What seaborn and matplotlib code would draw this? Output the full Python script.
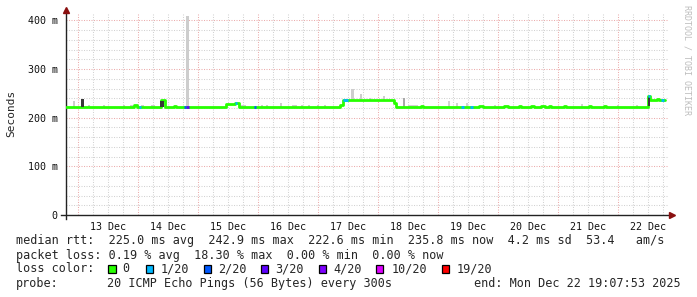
import numpy as np
import pandas as pd
import matplotlib
matplotlib.use("Agg")
import matplotlib.pyplot as plt
import seaborn as sns

# ---------------- data (hours since 13 Dec 00:00, values in ms) ----------------
# median rtt, step-post breakpoints
med_hours = [-4.8, 22.4, 23.4, 33.2, 34.6, 38.4, 39.2, 59.2, 62.8, 64.6,
             104.8, 106.0, 126.4, 127.2, 137.2, 138.0, 160.4, 162.0, 170.4, 172.0,
             176.4, 177.2, 181.2, 182.4, 185.2, 186.8, 188.4, 189.2, 194.4, 195.2,
             204.4, 205.2, 210.4, 211.2, 228.0, 228.8, 231.6, 232.4, 234.8]
med_values = [222.6, 225.5, 222.6, 237.0, 222.6, 225.0, 222.6, 229.0, 231.0, 222.6,
              226.0, 236.0, 231.0, 222.6, 224.5, 222.6, 224.5, 222.6, 224.5, 222.6,
              224.5, 222.6, 224.5, 222.6, 224.5, 222.6, 224.5, 222.6, 224.5, 222.6,
              224.5, 222.6, 224.5, 222.6, 244.0, 237.0, 239.0, 237.0, 237.0]

# segments with packet loss (start h, end h, value, loss level index)
loss_start = [24.4, 42.4, 43.4, 62.8, 70.4, 106.0, 153.2, 156.8, 228.0, 233.2]
loss_end = [25.2, 43.4, 44.4, 63.6, 71.2, 108.0, 154.4, 158.0, 228.8, 234.4]
loss_value = [222.6, 222.6, 222.6, 231.0, 222.6, 236.0, 222.6, 222.6, 244.0, 237.0]
loss_level = [1, 2, 3, 1, 2, 1, 1, 1, 1, 1]

# light smoke (ping spread) bars: centre hour, width hours, low, high, shade
smoke_hour = [-1.6, 4.4, 10.4, 18.4, 21.2, 25.6, 30.0, 43.8, 66.4, 73.6, 75.6,
              81.2, 86.8, 89.6, 92.4, 96.0, 98.8, 109.8, 113.2, 116.8, 122.4,
              130.4, 134.0, 148.4, 151.6, 155.6, 166.8, 201.6, 216.0, 223.6]
smoke_width = [0.8, 0.8, 0.8, 0.8, 1.2, 1.2, 1.6, 1.2, 2.0, 0.8, 0.8,
               0.8, 2.0, 0.8, 0.8, 0.8, 0.8, 1.2, 0.8, 0.8, 0.8,
               0.8, 4.0, 0.8, 0.8, 0.8, 0.8, 0.8, 0.8, 0.8]
smoke_low = [222.6] * 17 + [236.0] * 4 + [222.6] * 9
smoke_high = [234, 227, 226, 226, 226, 227, 227, 410, 227, 227, 226,
              230, 227, 226, 226, 226, 226, 260, 248, 240, 244,
              241, 227, 234, 231, 231, 227, 228, 226, 226]
smoke_shade = ["#cdcdcd"] * 21 + ["#a8a8a8"] + ["#d2d2d2"] * 8

# dense (dark) smoke bars
dark_hour = [1.8, 33.6, 228.3]
dark_width = [1.2, 1.6, 0.8]
dark_low = [222.6, 222.6, 224.0]
dark_high = [238.0, 235.0, 242.0]

loss_labels = ["0", "1/20", "2/20", "3/20", "4/20", "10/20", "19/20"]
loss_colors = ["#26ff00", "#00b8ff", "#0059ff", "#5e00ff", "#7e00ff", "#dd00ff", "#ff0000"]

day_labels = ["13 Dec", "14 Dec", "15 Dec", "16 Dec", "17 Dec",
              "18 Dec", "19 Dec", "20 Dec", "21 Dec", "22 Dec"]
y_ticks = [0, 100, 200, 300, 400]
y_ticklabels = ["0", "100 m", "200 m", "300 m", "400 m"]

stats_line1 = "median rtt:  225.0 ms avg  242.9 ms max  222.6 ms min  235.8 ms now  4.2 ms sd  53.4   am/s"
stats_line2 = "packet loss: 0.19 % avg  18.30 % max  0.00 % min  0.00 % now"
probe_text = "20 ICMP Echo Pings (56 Bytes) every 300s"
end_text = "end: Mon Dec 22 19:07:53 2025"

# ---------------- figure ----------------
sns.set_style("white")
plt.rcParams["font.family"] = ["DejaVu Sans Mono"]

W, H = 697, 297
fig = plt.figure(figsize=(W / 100, H / 100), dpi=100)
fig.patch.set_facecolor("white")
ax = fig.add_axes([66 / W, (H - 215) / H, 602 / W, 202 / H])
XMIN, XMAX = -4.8, 236.0
YMAX = 415.4
ax.set_xlim(XMIN, XMAX)
ax.set_ylim(0, YMAX)

# grid
minor_c, major_c = "#d2d2d2", "#ebadad"
dot = (0, (1, 1.4))
for h in np.arange(0, XMAX, 6):
    ax.axvline(h, color=major_c if h % 24 == 0 else minor_c, lw=0.75, ls=dot, zorder=0)
for v in np.arange(20, YMAX, 20):
    ax.axhline(v, color=major_c if v % 100 == 0 else minor_c, lw=0.75, ls=dot, zorder=0)

# light smoke
ax.bar(smoke_hour, np.array(smoke_high) - np.array(smoke_low), bottom=smoke_low,
       width=smoke_width, color=smoke_shade, linewidth=0, zorder=2)

# median line
df = pd.DataFrame({"h": med_hours, "rtt": med_values})
sns.lineplot(data=df, x="h", y="rtt", ax=ax, drawstyle="steps-post",
             color=loss_colors[0], linewidth=2, estimator=None, sort=False, zorder=3)

# dark smoke on top of the step edges
ax.bar(dark_hour, np.array(dark_high) - np.array(dark_low), bottom=dark_low,
       width=dark_width, color="#383838", linewidth=0, zorder=3.5)

ax.hlines(loss_value, loss_start, loss_end,
          colors=[loss_colors[i] for i in loss_level], linewidth=2, zorder=4)

# axes styling
for s in ["top", "right"]:
    ax.spines[s].set_visible(False)
for s in ["left", "bottom"]:
    ax.spines[s].set_color("#222222")
    ax.spines[s].set_linewidth(1)
ax.spines["left"].set_bounds(-8, 421)
ax.spines["bottom"].set_bounds(-6.8, 237)
ax.set_xticks([12 + 24 * i for i in range(len(day_labels))])
ax.set_xticklabels(day_labels, fontsize=7.2)
ax.set_yticks(y_ticks)
ax.set_yticklabels(y_ticklabels, fontsize=7.2)
ax.tick_params(axis="both", length=0, labelcolor="#111111")
ax.tick_params(axis="x", pad=5)
ax.tick_params(axis="y", pad=6)
ax.set_xlabel("")
ax.set_ylabel("")

# arrows
arrow_c = "#8a1010"
ax.plot([XMIN], [421.6], marker="^", color=arrow_c, markersize=4, clip_on=False, zorder=5)
ax.plot([237.6], [0], marker=">", color=arrow_c, markersize=4, clip_on=False, zorder=5)

# texts
def ftext(x, y, s, **kw):
    fig.text(x / W, 1 - y / H, s, **kw)

ftext(10.8, 113, "Seconds", rotation=90, fontsize=8, ha="center", va="center")
ftext(687, 60, "RRDTOOL / TOBI OETIKER", rotation=270, fontsize=6,
      color="#bdbdbd", ha="center", va="center")

fs = 8.47
ftext(15.6, 240.7, stats_line1, fontsize=fs, va="center")
ftext(15.6, 255.3, stats_line2, fontsize=fs, va="center")
ftext(15.6, 269, "loss color:", fontsize=fs, va="center")
box_x = [108.3, 146.0, 203.5, 261.0, 318.5, 376.0, 442.0]
text_x = [122.5, 160.5, 218.0, 275.5, 333.0, 391.5, 456.5]
for bx, tx, lab, col in zip(box_x, text_x, loss_labels, loss_colors):
    fig.patches.append(plt.Rectangle((bx / W, 1 - 273.2 / H), 7.2 / W, 8.6 / H,
                                     transform=fig.transFigure, facecolor=col,
                                     edgecolor="black", linewidth=0.9))
    ftext(tx, 269, lab, fontsize=fs, va="center")
ftext(15.6, 283.4, "probe:", fontsize=fs, va="center")
ftext(107.3, 283.4, probe_text, fontsize=fs, va="center")
ftext(681, 283.4, end_text, fontsize=fs, va="center", ha="right")

fig.savefig("out.png", dpi=100)
